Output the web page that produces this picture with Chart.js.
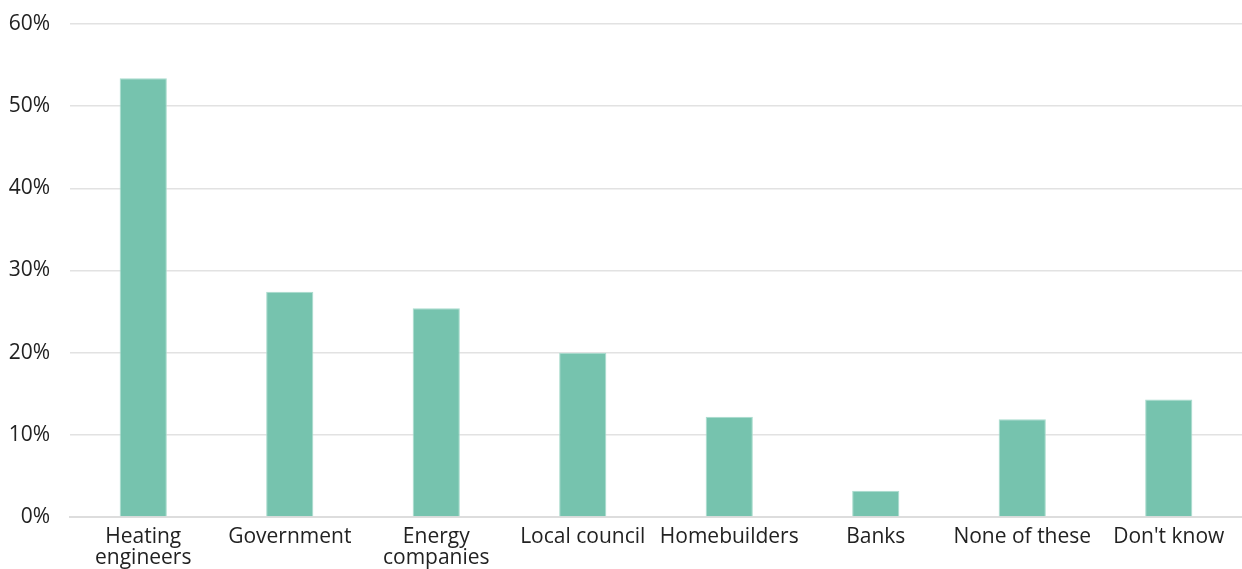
<!DOCTYPE html>
<html>
<head>
<meta charset="utf-8">
<script src="https://cdn.jsdelivr.net/npm/chart.js@4/dist/chart.umd.min.js"></script>
<style>
  html, body { margin: 0; padding: 0; background: #fff; }
  #wrap { width: 1242px; height: 569px; position: relative; }
</style>
</head>
<body>
<div id="wrap"><canvas id="chart"></canvas></div>
<script>
var categories = [
    ['Heating', 'engineers'],
    'Government',
    ['Energy', 'companies'],
    'Local council',
    'Homebuilders',
    'Banks',
    'None of these',
    "Don't know"
];
var shares = [53.4, 27.4, 25.4, 20.0, 12.2, 3.2, 11.9, 14.3];
var yTicks = [0, 10, 20, 30, 40, 50, 60];

Chart.defaults.font.family = '"Open Sans", sans-serif';
Chart.defaults.font.size = 21;
Chart.defaults.color = '#222';

new Chart(document.getElementById('chart'), {
    type: 'bar',
    data: {
        labels: categories,
        datasets: [{
            data: shares,
            backgroundColor: '#76c3ae',
            borderColor: '#a9dccd',
            borderWidth: { top: 1, left: 1, right: 1, bottom: 0 },
            barPercentage: 0.322,
            categoryPercentage: 1
        }]
    },
    options: {
        responsive: true,
        maintainAspectRatio: false,
        animation: false,
        layout: { padding: { top: 24, right: -3, bottom: 0, left: 0 } },
        plugins: {
            legend: { display: false },
            tooltip: { enabled: false }
        },
        scales: {
            x: {
                grid: { display: false },
                border: { color: '#ddd', width: 2 },
                ticks: {
                    padding: 2,
                    maxRotation: 0,
                    autoSkip: false,
                    font: { lineHeight: 0.97 }
                },
                afterFit: function (scale) {
                    scale.height = 52;
                    scale.paddingLeft = 0;
                    scale.paddingRight = 0;
                }
            },
            y: {
                min: 0,
                max: 60,
                border: { display: false },
                grid: { color: '#e2e2e2', lineWidth: 1.5, drawTicks: false },
                afterBuildTicks: function (scale) {
                    scale.ticks = yTicks.map(function (v) { return { value: v }; });
                },
                ticks: {
                    padding: 20,
                    callback: function (v) { return v + '%'; }
                },
                afterFit: function (scale) {
                    scale.width = 70;
                    scale.paddingTop = 0;
                    scale.paddingBottom = 0;
                }
            }
        }
    }
});
</script>
</body>
</html>
